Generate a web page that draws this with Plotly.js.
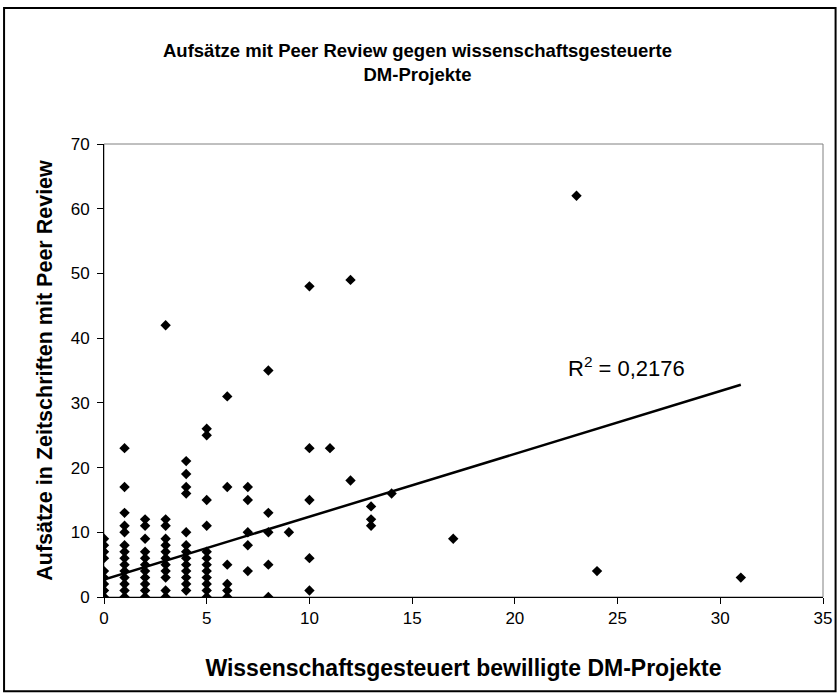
<!DOCTYPE html>
<html>
<head>
<meta charset="utf-8">
<script src="https://cdn.plot.ly/plotly-3.0.1.min.js"></script>
<style>
html,body{margin:0;padding:0;background:#fff;}
#chart{width:840px;height:697px;}
</style>
</head>
<body>
<div id="chart"></div>
<script>
// Data
const projects = [
  0,0,0,0,0,0,0,0,0,
  1,1,1,1,1,1,1,1,1,1,1,1,1,1,
  2,2,2,2,2,2,2,2,2,2,2,
  3,3,3,3,3,3,3,3,3,3,3,3,
  4,4,4,4,4,4,4,4,4,4,4,4,4,
  5,5,5,5,5,5,5,5,5,5,5,5,
  6,6,6,6,6,6,
  7,7,7,7,7,
  8,8,8,8,8,
  9,
  10,10,10,10,10,
  11,
  12,12,
  13,13,13,
  14,
  17,
  23,
  24,
  31
];
const articles = [
  0,1,2,3,4,6,7,8,9,
  0,1,2,3,4,5,6,7,8,10,11,13,17,23,
  0,1,2,3,4,5,6,7,9,11,12,
  0,1,3,4,5,6,7,8,9,11,12,42,
  1,2,3,4,5,6,7,8,10,16,17,19,21,
  0,1,2,3,4,5,6,7,11,15,25,26,
  0,1,2,5,17,31,
  4,8,10,15,17,
  0,5,10,13,35,
  10,
  1,6,15,23,48,
  23,
  18,49,
  11,12,14,
  16,
  9,
  62,
  4,
  3
];
// Linear trendline as shown in the reference
const trendIntercept = [2.7];
const trendSlope = [0.971];
const rSquaredLabel = "R<sup>2</sup> = 0,2176";
const xTicks = [0,5,10,15,20,25,30,35];
const yTicks = [0,10,20,30,40,50,60,70];

const xMin = Math.min(...projects), xMax = Math.max(...projects);
const trendX = [xMin, xMax];
const trendY = trendX.map(v => trendIntercept[0] + trendSlope[0]*v);

const font = "Liberation Sans, Arial, sans-serif";

const traces = [
  {
    x: projects, y: articles, type: 'scatter', mode: 'markers',
    marker: {symbol: 'diamond', size: 8, color: '#000'},
    showlegend: false, hoverinfo: 'x+y'
  },
  {
    x: trendX, y: trendY, type: 'scatter', mode: 'lines',
    line: {color: '#000', width: 2.5},
    showlegend: false, hoverinfo: 'skip'
  }
];

const layout = {
  width: 840, height: 697,
  margin: {l: 104, r: 17, t: 144, b: 100, pad: 0},
  paper_bgcolor: '#fff', plot_bgcolor: '#fff',
  font: {family: font, color: '#000', size: 17},
  showlegend: false,
  title: {
    text: '<b>Aufsätze mit Peer Review gegen wissenschaftsgesteuerte<br>DM-Projekte</b>',
    font: {family: font, size: 18.5, color: '#000'},
    x: 0.497, xanchor: 'center', y: 0.918, yanchor: 'middle', yref: 'container'
  },
  xaxis: {
    range: [0, 35], tickvals: xTicks, ticktext: xTicks.map(String),
    showgrid: false, zeroline: false,
    showline: true, linecolor: '#000', linewidth: 1,
    ticks: 'outside', ticklen: 6, tickcolor: '#000',
    tickfont: {family: font, size: 17, color: '#000'},
    title: {text: '<b>Wissenschaftsgesteuert bewilligte DM-Projekte</b>',
            font: {family: font, size: 23, color: '#000'}, standoff: 32}
  },
  yaxis: {
    range: [0, 70], tickvals: yTicks, ticktext: yTicks.map(String),
    showgrid: false, zeroline: false,
    showline: true, linecolor: '#000', linewidth: 1,
    ticks: 'outside', ticklen: 6, tickcolor: '#000',
    tickfont: {family: font, size: 17, color: '#000'},
    ticklabelstandoff: 4,
    title: {text: '<b>Aufsätze in Zeitschriften mit Peer Review</b>',
            font: {family: font, size: 21.5, color: '#000'}, standoff: 12}
  },
  shapes: [
    {type: 'rect', xref: 'x domain', yref: 'y domain', x0: 0, x1: 1, y0: 0, y1: 1,
     line: {color: '#808080', width: 1}, layer: 'below'},
    {type: 'rect', xref: 'paper', yref: 'paper',
     x0: -0.139, x1: 1.0175, y0: -0.208, y1: 1.3,
     line: {color: '#000', width: 2}, layer: 'below'}
  ],
  annotations: [
    {text: rSquaredLabel, x: 22.5, y: 35.6, xref: 'x', yref: 'y',
     showarrow: false, font: {family: font, size: 22, color: '#000'},
     xanchor: 'left', yanchor: 'middle'}
  ]
};

Plotly.newPlot('chart', traces, layout, {displayModeBar: false, staticPlot: true});
</script>
</body>
</html>
